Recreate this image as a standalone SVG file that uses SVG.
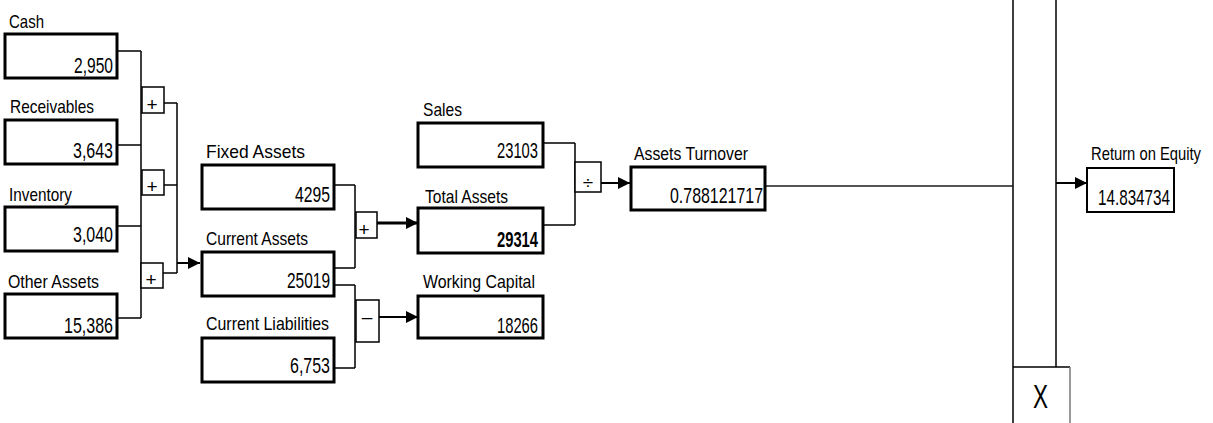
<svg xmlns="http://www.w3.org/2000/svg" width="1213" height="423" viewBox="0 0 1213 423">
<style>
text{font-family:"Liberation Sans",Arial,sans-serif;fill:#000}
.lbl{font-size:19px}
.val{font-size:22px;text-anchor:end}
.box{fill:#fff;stroke:#000;stroke-width:3}
.op{fill:#fff;stroke:#000;stroke-width:1.5}
.ln{fill:none;stroke:#000;stroke-width:1.5}
.ar{fill:none;stroke:#000;stroke-width:2;marker-end:url(#ah)}
.sym{font-size:19px;text-anchor:middle}
</style>
<defs>
<marker id="ah" markerUnits="userSpaceOnUse" markerWidth="12" markerHeight="12" viewBox="0 0 12 12" refX="12" refY="6" orient="auto">
<path d="M0,0 L12,6 L0,12 Z" fill="#000"/>
</marker>
</defs>
<rect width="1213" height="423" fill="#fff"/>
<g id="connectors">
<path class="ln" d="M117,51H141M117,145H141M117,226H141M117,318H141M141,51V318"/>
<path class="ln" d="M164,103H177M164,185H177M163,273H177M177,103V273"/>
<path class="ar" d="M177,263H200"/>
<path class="ln" d="M334,185H355M334,268H355M355,185V268"/>
<path class="ar" d="M377,223H418" style="stroke-width:3"/>
<path class="ln" d="M334,285H355M334,368H355M355,285V368"/>
<path class="ar" d="M379,317H418"/>
<path class="ln" d="M543,143H575M543,225H575M575,143V225"/>
<path class="ar" d="M601,183H630"/>
<path d="M765,186H1013" stroke="#555" stroke-width="2" fill="none"/>
<path class="ln" d="M1013,0V423M1056,0V367M1013,367H1070"/>
<path d="M1070,367V423" stroke="#777" stroke-width="1.5" fill="none"/>
<path class="ar" d="M1056,183H1087"/>
</g>
<g id="op-plus1"><rect class="op" x="142" y="87" width="22" height="26"/><text class="sym" x="152" y="111">+</text></g>
<g id="op-plus2"><rect class="op" x="142" y="170" width="22" height="25"/><text class="sym" x="152" y="193">+</text></g>
<g id="op-plus3"><rect class="op" x="141" y="263" width="22" height="25"/><text class="sym" x="151" y="286">+</text></g>
<g id="op-plus4"><rect class="op" x="356" y="212" width="21" height="26"/><text class="sym" x="364" y="236">+</text></g>
<g id="op-minus"><rect class="op" x="356" y="300" width="23" height="42"/><text class="sym" x="367" y="323">–</text></g>
<g id="op-div"><rect class="op" x="575" y="162" width="26" height="30"/><text class="sym" x="588" y="189">÷</text></g>
<g id="op-x"><text x="1033" y="408" style="font-size:34px" textLength="15" lengthAdjust="spacingAndGlyphs">X</text></g>
<g id="cash"><text class="lbl" x="9" y="28" textLength="35" lengthAdjust="spacingAndGlyphs">Cash</text><rect class="box" x="5" y="34" width="112" height="44"/><text class="val" x="113" y="73" textLength="39" lengthAdjust="spacingAndGlyphs">2,950</text></g>
<g id="receivables"><text class="lbl" x="10" y="113" textLength="84" lengthAdjust="spacingAndGlyphs">Receivables</text><rect class="box" x="5" y="120" width="112" height="44"/><text class="val" x="113" y="158" textLength="40" lengthAdjust="spacingAndGlyphs">3,643</text></g>
<g id="inventory"><text class="lbl" x="9" y="201" textLength="63" lengthAdjust="spacingAndGlyphs">Inventory</text><rect class="box" x="5" y="207" width="112" height="44"/><text class="val" x="113" y="242" textLength="40" lengthAdjust="spacingAndGlyphs">3,040</text></g>
<g id="other-assets"><text class="lbl" x="8" y="288" textLength="91" lengthAdjust="spacingAndGlyphs">Other Assets</text><rect class="box" x="5" y="294" width="112" height="44"/><text class="val" x="113" y="333" textLength="49" lengthAdjust="spacingAndGlyphs">15,386</text></g>
<g id="fixed-assets"><text class="lbl" x="206" y="158" textLength="99" lengthAdjust="spacingAndGlyphs">Fixed Assets</text><rect class="box" x="202" y="165" width="132" height="44"/><text class="val" x="330" y="202" textLength="35" lengthAdjust="spacingAndGlyphs">4295</text></g>
<g id="current-assets"><text class="lbl" x="206" y="245" textLength="102" lengthAdjust="spacingAndGlyphs">Current Assets</text><rect class="box" x="202" y="252" width="132" height="44"/><text class="val" x="330" y="288" textLength="43" lengthAdjust="spacingAndGlyphs">25019</text></g>
<g id="current-liabilities"><text class="lbl" x="206" y="330" textLength="123" lengthAdjust="spacingAndGlyphs">Current Liabilities</text><rect class="box" x="202" y="338" width="132" height="44"/><text class="val" x="330" y="373" textLength="40" lengthAdjust="spacingAndGlyphs">6,753</text></g>
<g id="sales"><text class="lbl" x="423" y="116" textLength="39" lengthAdjust="spacingAndGlyphs">Sales</text><rect class="box" x="418" y="123" width="125" height="44"/><text class="val" x="538" y="158" textLength="41" lengthAdjust="spacingAndGlyphs">23103</text></g>
<g id="total-assets"><text class="lbl" x="425" y="203" textLength="83" lengthAdjust="spacingAndGlyphs">Total Assets</text><rect class="box" x="418" y="208" width="125" height="45"/><text class="val" x="538" y="247" style="font-weight:bold" textLength="41" lengthAdjust="spacingAndGlyphs">29314</text></g>
<g id="working-capital"><text class="lbl" x="423" y="288" textLength="112" lengthAdjust="spacingAndGlyphs">Working Capital</text><rect class="box" x="418" y="296" width="125" height="42"/><text class="val" x="538" y="333" textLength="41" lengthAdjust="spacingAndGlyphs">18266</text></g>
<g id="assets-turnover"><text class="lbl" x="634" y="160" textLength="114" lengthAdjust="spacingAndGlyphs">Assets Turnover</text><rect class="box" x="631" y="167" width="134" height="43"/><text class="val" x="763" y="203" textLength="93" lengthAdjust="spacingAndGlyphs">0.788121717</text></g>
<g id="return-on-equity"><text class="lbl" x="1091" y="160" textLength="110" lengthAdjust="spacingAndGlyphs">Return on Equity</text><rect class="box" x="1087" y="168" width="87" height="44" style="stroke-width:2"/><text class="val" x="1170" y="205" textLength="72" lengthAdjust="spacingAndGlyphs">14.834734</text></g>
</svg>
